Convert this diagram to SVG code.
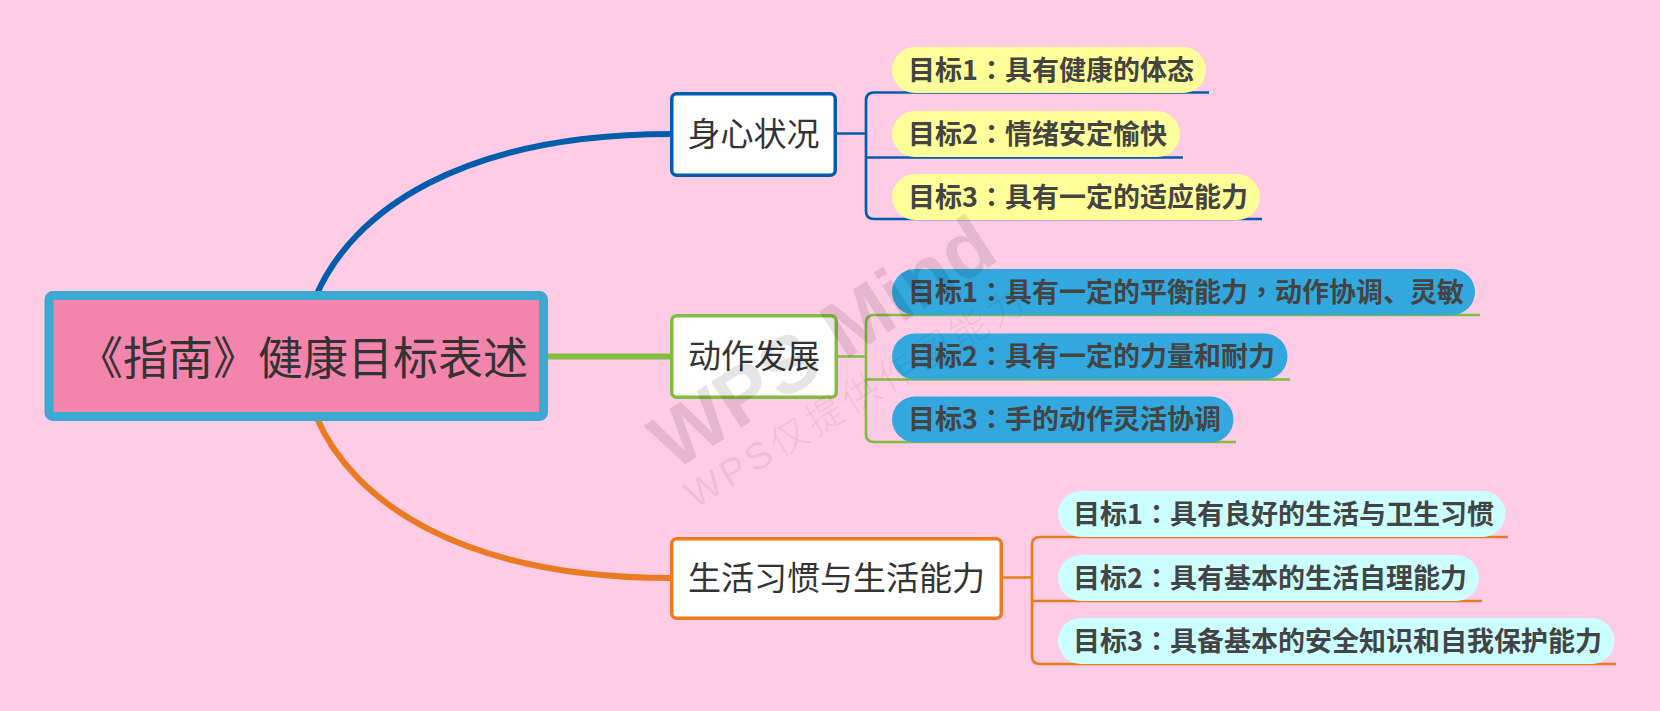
<svg xmlns="http://www.w3.org/2000/svg" width="1660" height="711" viewBox="0 0 1660 711">
<style>
.bg{fill:#FFCCE6}
.br{fill:#FFFFFF;stroke-width:3.5}
.bt{font-family:"Noto Sans CJK SC","Noto Sans",sans-serif;font-size:33px;fill:#333333;text-anchor:middle}
.lt{font-family:"Noto Sans CJK SC","Noto Sans",sans-serif;font-size:27px;font-weight:700;fill:#444444}
.c{font-family:"Noto Sans CJK TC","Noto Sans CJK SC",sans-serif}
.ln{fill:none;stroke-width:2.7;stroke-linecap:butt}
.main{fill:none;stroke-width:6}
.wm{font-family:"Liberation Sans","Noto Sans CJK SC",sans-serif;fill:#000000}
</style>
<rect class="bg" x="0" y="0" width="1660" height="711"/>
<g id="connectors">
<path class="main" stroke="#005DAC" d="M316 296 C 352 212 460 134 672 134"/>
<path class="main" stroke="#82BC41" d="M540 356.5 H672"/>
<path class="main" stroke="#EB7B22" d="M316 416 C 352 501 460 578 672 578"/>
<path class="ln" stroke="#005DAC" d="M837 133.5 H866 M1209 92.5 H874 Q866 92.5 866 100.5 V211 Q866 219 874 219 H1262 M866 157.5 H1183"/>
<path class="ln" stroke="#82BC41" d="M838 356.5 H866 M1480 315 H874 Q866 315 866 323 V434 Q866 442 874 442 H1236 M866 379.5 H1290"/>
<path class="ln" stroke="#EB7B22" d="M1003 577.5 H1032 M1508 537 H1040 Q1032 537 1032 545 V656 Q1032 664 1040 664 H1616 M1032 601 H1482"/>
</g>
<g id="root">
<rect x="49" y="295.5" width="494.5" height="121" rx="4" fill="#F384AC" stroke="#3BA9D0" stroke-width="9"/>
<text x="303" y="375" style="font-family:'Noto Sans CJK SC','Noto Sans',sans-serif;font-size:45px;fill:#333333;text-anchor:middle">《指南》健康目标表述</text>
</g>
<g id="b1">
<rect class="br" stroke="#005DAC" x="671.75" y="93.75" width="163.5" height="81.5" rx="5"/>
<text class="bt" x="753.5" y="145.5">身心状况</text>
</g>
<g id="b1-1">
<rect x="892" y="47" width="314" height="46" rx="23" fill="#FFFF99"/>
<text class="lt" x="908" y="79.5">目标1<tspan class="c">：</tspan>具有健康的体态</text>
</g>
<g id="b1-2">
<rect x="892" y="111" width="288" height="46" rx="23" fill="#FFFF99"/>
<text class="lt" x="908" y="143.5">目标2<tspan class="c">：</tspan>情绪安定愉快</text>
</g>
<g id="b1-3">
<rect x="892" y="174" width="368" height="46" rx="23" fill="#FFFF99"/>
<text class="lt" x="908" y="206.5">目标3<tspan class="c">：</tspan>具有一定的适应能力</text>
</g>
<g id="b2">
<rect class="br" stroke="#82BC41" x="671.75" y="315.75" width="164.5" height="81.5" rx="5"/>
<text class="bt" x="754" y="368">动作发展</text>
</g>
<g id="b2-1">
<rect x="892" y="269" width="583" height="46" rx="23" fill="#32A8DF"/>
<text class="lt" x="908" y="301.5">目标1<tspan class="c">：</tspan>具有一定的平衡能力<tspan class="c">，</tspan>动作协调、灵敏</text>
</g>
<g id="b2-2">
<rect x="892" y="333.5" width="395.5" height="46" rx="23" fill="#32A8DF"/>
<text class="lt" x="908" y="366">目标2<tspan class="c">：</tspan>具有一定的力量和耐力</text>
</g>
<g id="b2-3">
<rect x="892" y="396.5" width="341.5" height="46" rx="23" fill="#32A8DF"/>
<text class="lt" x="908" y="429">目标3<tspan class="c">：</tspan>手的动作灵活协调</text>
</g>
<g id="b3">
<rect class="br" stroke="#EB7B22" x="671.75" y="538.75" width="329.5" height="79.5" rx="5"/>
<text class="bt" x="836.5" y="590">生活习惯与生活能力</text>
</g>
<g id="b3-1">
<rect x="1058" y="491" width="447.5" height="46" rx="23" fill="#CCFFFF"/>
<text class="lt" x="1073" y="523.5">目标1<tspan class="c">：</tspan>具有良好的生活与卫生习惯</text>
</g>
<g id="b3-2">
<rect x="1058" y="555" width="421" height="46" rx="23" fill="#CCFFFF"/>
<text class="lt" x="1073" y="587.5">目标2<tspan class="c">：</tspan>具有基本的生活自理能力</text>
</g>
<g id="b3-3">
<rect x="1058" y="618" width="556.5" height="46" rx="23" fill="#CCFFFF"/>
<text class="lt" x="1073" y="650.5">目标3<tspan class="c">：</tspan>具备基本的安全知识和自我保护能力</text>
</g>
<g id="watermark">
<text class="wm" transform="translate(822 342) rotate(-33)" x="0" y="28" style="font-size:80px;font-weight:700;text-anchor:middle;fill-opacity:0.1">WPS Mind</text>
<text class="wm" transform="translate(856 396) rotate(-31)" x="0" y="14" style="font-size:38px;font-weight:300;text-anchor:middle;letter-spacing:4px;fill-opacity:0.08">WPS仅提供作图能力</text>
</g>
</svg>
